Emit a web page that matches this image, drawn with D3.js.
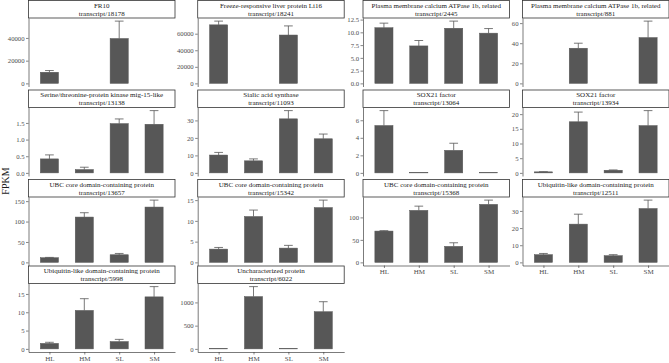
<!DOCTYPE html>
<html>
<head>
<meta charset="utf-8">
<script src="https://cdn.jsdelivr.net/npm/d3@7"></script>
<style>
  body { margin: 0; background: #fff; }
  svg text { font-family: "Liberation Serif", "DejaVu Serif", serif; }
</style>
</head>
<body>
<svg id="chart" width="669" height="363"></svg>
<script>
const groups = ["HL", "HM", "SL", "SM"];

const geneNames = [
  "FR10",
  "Freeze-responsive liver protein Li16",
  "Plasma membrane calcium ATPase 1b, related",
  "Plasma membrane calcium ATPase 1b, related",
  "Serine/threonine-protein kinase mig-15-like",
  "Sialic acid synthase",
  "SOX21 factor",
  "SOX21 factor",
  "UBC core domain-containing protein",
  "UBC core domain-containing protein",
  "UBC core domain-containing protein",
  "Ubiquitin-like domain-containing protein",
  "Ubiquitin-like domain-containing protein",
  "Uncharacterized protein"
];

const transcripts = [
  "transcript/18178", "transcript/18241", "transcript/2445", "transcript/881",
  "transcript/13138", "transcript/11093", "transcript/13064", "transcript/13934",
  "transcript/13657", "transcript/15342", "transcript/15368", "transcript/12511",
  "transcript/5998", "transcript/6022"
];

// mean FPKM per group (HL, HM, SL, SM)
const fpkmMean = [
  [9800, 0, 39500, 0],
  [70700, 0, 58400, 0],
  [10.9, 7.34, 10.8, 9.84],
  [0, 35, 0, 45.6],
  [0.42, 0.10, 1.48, 1.46],
  [10.2, 6.9, 30.9, 19.5],
  [5.4, 0.03, 2.57, 0.03],
  [0.35, 17.4, 0.9, 16.1],
  [11.4, 111, 18.7, 135.5],
  [3.2, 11.05, 3.44, 13.2],
  [69.6, 115.6, 35.6, 128.9],
  [4.5, 22.3, 3.9, 31.4],
  [1.5, 10.5, 2.0, 14.2],
  [5, 1125, 5, 800]
];

// standard deviation (upper whisker only)
const fpkmSd = [
  [1500, 0, 15300, 0],
  [4500, 0, 11000, 0],
  [0.9, 1.06, 1.4, 0.9],
  [0, 5, 0, 16.4],
  [0.12, 0.07, 0.14, 0.41],
  [1.5, 1.1, 4.7, 2.7],
  [1.7, 0, 0.81, 0],
  [0.05, 3.3, 0.1, 5.1],
  [0.8, 10.6, 3.2, 17],
  [0.4, 1.55, 0.66, 1.8],
  [0.9, 9.4, 8, 9.5],
  [0.7, 5.8, 0.6, 4.9],
  [0.3, 3.2, 0.6, 2.8],
  [0, 215, 0, 215]
];

const yTicks = [
  [0, 20000, 40000],
  [0, 20000, 40000, 60000],
  [0, 2.5, 5, 7.5, 10, 12.5],
  [0, 20, 40, 60],
  [0, 0.5, 1, 1.5],
  [0, 10, 20, 30],
  [0, 2, 4, 6],
  [0, 5, 10, 15, 20],
  [0, 50, 100, 150],
  [0, 5, 10, 15],
  [0, 50, 100],
  [0, 10, 20, 30],
  [0, 5, 10, 15],
  [0, 500, 1000]
];
const oneDecimal = [2, 4];

const colLeft = [28.5, 197.7, 363, 522.5];
const rowTop = [0.5, 90, 179.5, 266];
const panelW = 146.5, stripH = 17.5, panelH = 68.5;
const barColor = "#575757";
const nPanels = geneNames.length;

const svg = d3.select("#chart");

svg.append("text")
  .attr("transform", "translate(9,181) rotate(-90)")
  .attr("text-anchor", "middle")
  .attr("font-size", 10)
  .attr("fill", "#1a1a1a")
  .text("FPKM");

geneNames.forEach(function(name, i) {
  let r = Math.floor(i / 4), c = i % 4;
  let g = svg.append("g")
    .attr("transform", "translate(" + colLeft[c] + "," + rowTop[r] + ")");

  // strip
  g.append("rect")
    .attr("x", 0).attr("y", 0)
    .attr("width", panelW).attr("height", stripH)
    .attr("fill", "#fff")
    .attr("stroke", "#333")
    .attr("stroke-width", 0.8);
  g.append("text")
    .attr("x", panelW / 2).attr("y", 7.3)
    .attr("text-anchor", "middle")
    .attr("font-size", 7)
    .attr("fill", "#1a1a1a")
    .text(name);
  g.append("text")
    .attr("x", panelW / 2).attr("y", 15)
    .attr("text-anchor", "middle")
    .attr("font-size", 7)
    .attr("fill", "#1a1a1a")
    .text(transcripts[i]);

  let p = g.append("g").attr("transform", "translate(0," + stripH + ")");

  let means = fpkmMean[i], sds = fpkmSd[i];
  let maxV = d3.max(means.map((m, j) => m + sds[j]));

  let x = d3.scalePoint().domain(groups).range([0, panelW]).padding(0.6);
  let y = d3.scaleLinear().domain([-0.05 * maxV, 1.05 * maxV]).range([panelH, 0]);
  let bw = x.step() * 0.52;
  let capW = x.step() * 0.25;

  let rows = groups.map((grp, j) => ({grp: grp, mean: means[j], sd: sds[j]}));

  p.selectAll(".bar")
    .data(rows)
    .enter().append("rect")
    .attr("class", "bar")
    .attr("x", d => x(d.grp) - bw / 2)
    .attr("y", d => y(d.mean))
    .attr("width", bw)
    .attr("height", d => y(0) - y(d.mean))
    .attr("fill", barColor)
    .attr("stroke", barColor)
    .attr("stroke-width", 0.5);

  let errs = rows.filter(d => d.sd > 0);
  p.selectAll(".err")
    .data(errs)
    .enter().append("line")
    .attr("class", "err")
    .attr("x1", d => x(d.grp)).attr("x2", d => x(d.grp))
    .attr("y1", d => y(d.mean)).attr("y2", d => y(d.mean + d.sd))
    .attr("stroke", barColor).attr("stroke-width", 0.8);
  p.selectAll(".cap")
    .data(errs)
    .enter().append("line")
    .attr("class", "cap")
    .attr("x1", d => x(d.grp) - capW / 2).attr("x2", d => x(d.grp) + capW / 2)
    .attr("y1", d => y(d.mean + d.sd)).attr("y2", d => y(d.mean + d.sd))
    .attr("stroke", barColor).attr("stroke-width", 0.8);

  let fmt = oneDecimal.indexOf(i) >= 0 ? d3.format(".1f") : d3.format("d");
  let yAxis = d3.axisLeft(y).tickValues(yTicks[i]).tickFormat(fmt)
    .tickSizeInner(2.5).tickSizeOuter(0).tickPadding(1.5);
  let ya = p.append("g").call(yAxis);
  ya.select(".domain").attr("stroke", "#222").attr("stroke-width", 0.6);
  ya.selectAll(".tick line").attr("stroke", "#333").attr("stroke-width", 0.6);
  ya.selectAll(".tick text")
    .attr("font-size", 6.7)
    .attr("font-family", "Liberation Serif")
    .attr("fill", "#4d4d4d");

  // bottom axis only for the lowest panel in each column
  if (i + 4 >= nPanels) {
    let xAxis = d3.axisBottom(x).tickSizeInner(2.5).tickSizeOuter(0).tickPadding(1.5);
    let xa = p.append("g")
      .attr("transform", "translate(0," + panelH + ")")
      .call(xAxis);
    xa.select(".domain").attr("stroke", "#222").attr("stroke-width", 0.6);
    xa.selectAll(".tick line").attr("stroke", "#333").attr("stroke-width", 0.6);
    xa.selectAll(".tick text")
      .attr("font-size", 7)
      .attr("font-family", "Liberation Serif")
      .attr("fill", "#4d4d4d");
  }
});
</script>
</body>
</html>
